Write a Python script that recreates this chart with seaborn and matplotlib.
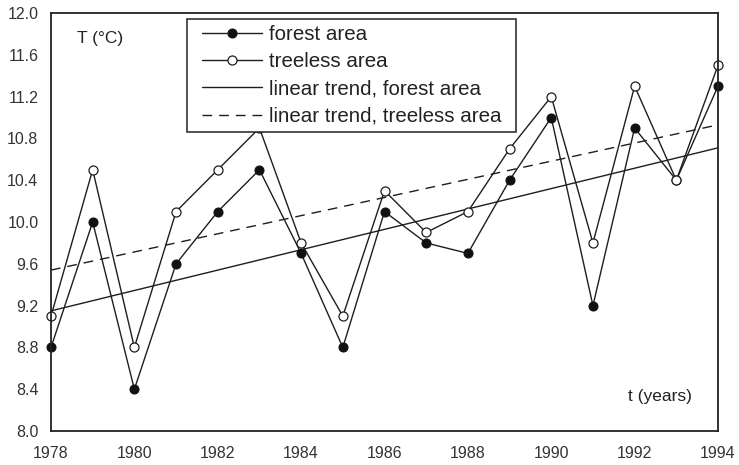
import matplotlib
matplotlib.use("Agg")
import matplotlib.pyplot as plt
from matplotlib.patches import Rectangle
import seaborn as sns
import pandas as pd

years = [1978, 1979, 1980, 1981, 1982, 1983, 1984, 1985, 1986, 1987, 1988, 1989, 1990, 1991, 1992, 1993, 1994]
forest = [8.8, 10.0, 8.4, 9.6, 10.1, 10.5, 9.7, 8.8, 10.1, 9.8, 9.7, 10.4, 11.0, 9.2, 10.9, 10.4, 11.3]
treeless = [9.1, 10.5, 8.8, 10.1, 10.5, 10.9, 9.8, 9.1, 10.3, 9.9, 10.1, 10.7, 11.2, 9.8, 11.3, 10.4, 11.5]
trend_years = [1978, 1994]
trend_forest = [9.15, 10.71]
trend_treeless = [9.54, 10.93]
y_ticks = [8.0, 8.4, 8.8, 9.2, 9.6, 10.0, 10.4, 10.8, 11.2, 11.6, 12.0]
x_ticks = [1978, 1980, 1982, 1984, 1986, 1988, 1990, 1992, 1994]

sns.set_theme(style="white")
plt.rcParams['font.family'] = ['Liberation Sans', 'DejaVu Sans']

df = pd.DataFrame({"year": years, "forest": forest, "treeless": treeless})
tr = pd.DataFrame({"year": trend_years, "forest": trend_forest, "treeless": trend_treeless})

fig = plt.figure(figsize=(7.39, 4.65), dpi=100)
ax = fig.add_axes([0.069, 0.073, 0.9026, 0.899])

sns.lineplot(data=tr, x="year", y="forest", ax=ax, color="#1e1e1e", lw=1.0,
             label="linear trend, forest area")
sns.lineplot(data=tr, x="year", y="treeless", ax=ax, color="#1e1e1e", lw=1.0,
             dashes=False, label="linear trend, treeless area")
ax.lines[-1].set_linestyle((0, (7, 5)))
sns.lineplot(data=df, x="year", y="forest", ax=ax, color="#1e1e1e", lw=1.0,
             marker="o", markersize=6.5, markerfacecolor="#111111",
             markeredgecolor="#111111", label="forest area", clip_on=False)
sns.lineplot(data=df, x="year", y="treeless", ax=ax, color="#1e1e1e", lw=1.0,
             marker="o", markersize=6.5, markerfacecolor="white",
             markeredgecolor="#1e1e1e", markeredgewidth=0.9, label="treeless area",
             clip_on=False)

ax.set_xlim(1978, 1994)
ax.set_ylim(8.0, 12.0)
ax.set_xticks(x_ticks)
ax.set_yticks(y_ticks)
ax.set_xticklabels([str(v) for v in x_ticks], fontsize=11.5, color="#333333")
ax.set_yticklabels([f"{v:.1f}" for v in y_ticks], fontsize=11.5, color="#333333")
ax.tick_params(axis="x", length=0, pad=11)
ax.tick_params(axis="y", length=0, pad=9)
ax.set_xlabel("")
ax.set_ylabel("")
for s in ax.spines.values():
    s.set_color("#222222")
    s.set_linewidth(1.3)
    s.set_visible(True)

ax.text(1978.62, 11.76, "T (°C)", fontsize=12.5, color="#222222", va="center")
ax.text(1993.38, 8.33, "t (years)", fontsize=12.5, color="#222222", va="center", ha="right")

# legend box
box = Rectangle((0.2039, 0.7153), 0.6972 - 0.2039, 0.9856 - 0.7153, transform=ax.transAxes,
                facecolor="white", edgecolor="#222222", lw=1.1, zorder=4)
ax.add_patch(box)

h, l = ax.get_legend_handles_labels()
order = [2, 3, 0, 1]
leg = ax.legend([h[i] for i in order], [l[i] for i in order], loc="upper left",
                bbox_to_anchor=(0.2264, 0.971), fontsize=14.8, frameon=False,
                handlelength=2.9, borderpad=0, labelspacing=0.4,
                handletextpad=0.35, borderaxespad=0)
leg.set_zorder(5)
for t in leg.get_texts():
    t.set_color("#222222")

fig.savefig("out.png", dpi=100)
